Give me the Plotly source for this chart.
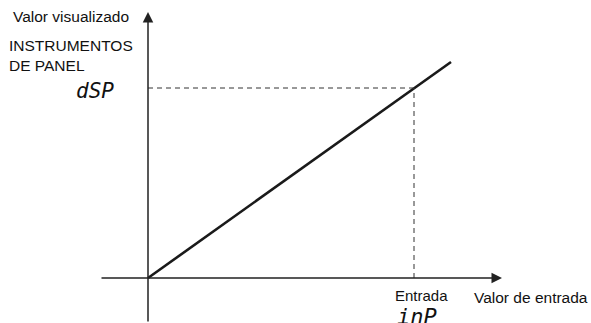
import plotly.graph_objects as go

# Data (logical units: origin at axes crossing)
input_vals = [0, 303]
display_vals = [0, 216]
inp_value = 266
dsp_value = 190
x_axis_span = [-48, 354]
y_axis_span = [-45, 266]

y_title = "Valor visualizado"
x_title = "Valor de entrada"
panel_label = "INSTRUMENTOS<br>DE PANEL"
dsp_label = "dSP"
inp_label = "inP"
entrada_label = "Entrada"

fig = go.Figure()

# main line
fig.add_trace(go.Scatter(x=input_vals, y=display_vals, mode="lines",
                         line=dict(color="#1a1a1a", width=2.6), hoverinfo="skip"))
# dashed guides
fig.add_trace(go.Scatter(x=[0, inp_value], y=[dsp_value, dsp_value], mode="lines",
                         line=dict(color="#333333", width=1, dash="5px,4px"), hoverinfo="skip"))
fig.add_trace(go.Scatter(x=[inp_value, inp_value], y=[0, dsp_value], mode="lines",
                         line=dict(color="#333333", width=1, dash="5px,4px"), hoverinfo="skip"))

axis_col = "#222222"
# axes with arrows
fig.add_annotation(x=x_axis_span[1], y=0, ax=x_axis_span[0], ay=0, xref="x", yref="y",
                   axref="x", ayref="y", showarrow=True, arrowhead=2, arrowsize=1.4,
                   arrowwidth=1.5, arrowcolor=axis_col, text="")
fig.add_annotation(x=0, y=y_axis_span[1], ax=0, ay=y_axis_span[0], xref="x", yref="y",
                   axref="x", ayref="y", showarrow=True, arrowhead=2, arrowsize=1.4,
                   arrowwidth=1.5, arrowcolor=axis_col, text="")

font = "Liberation Sans, Arial, sans-serif"
fig.add_annotation(x=-137, y=262, text=y_title, showarrow=False, xanchor="left", yanchor="middle",
                   font=dict(family=font, size=15.5, color="#111"))
fig.add_annotation(x=-141, y=223, text=panel_label, showarrow=False, xanchor="left", yanchor="middle",
                   align="left", font=dict(family=font, size=15.5, color="#111"))
fig.add_annotation(x=-53, y=187, text="<i>" + dsp_label + "</i>", showarrow=False, xanchor="center",
                   yanchor="middle", font=dict(family="DejaVu Sans Mono", size=21, color="#111"))
fig.add_annotation(x=273, y=-17, text=entrada_label, showarrow=False, xanchor="center", yanchor="middle",
                   font=dict(family=font, size=15, color="#111"))
fig.add_annotation(x=324, y=-19, text=x_title, showarrow=False, xanchor="left", yanchor="middle",
                   font=dict(family=font, size=15.5, color="#111"))
fig.add_annotation(x=269, y=-38, text="<i>" + inp_label + "</i>", showarrow=False, xanchor="center",
                   yanchor="middle", font=dict(family="DejaVu Sans Mono", size=22, color="#111"))

fig.update_layout(width=591, height=323, autosize=False, margin=dict(l=0, r=0, t=0, b=0),
                  paper_bgcolor="white", plot_bgcolor="white", showlegend=False,
                  xaxis=dict(range=[-148, 443], visible=False, fixedrange=True),
                  yaxis=dict(range=[-45, 278], visible=False, fixedrange=True))

fig.write_html("out.html", config={"displayModeBar": False},
               post_script="document.body.style.margin='0';document.body.style.overflow='hidden';")
